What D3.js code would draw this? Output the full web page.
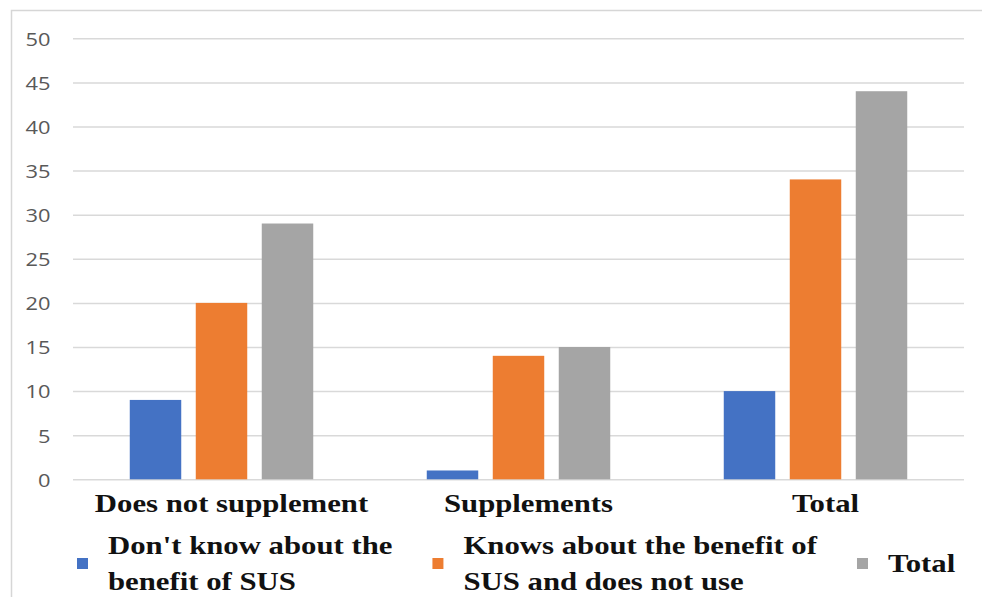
<!DOCTYPE html>
<html>
<head>
<meta charset="utf-8">
<script src="https://cdn.jsdelivr.net/npm/d3@7"></script>
<style>
  html, body { margin: 0; padding: 0; background: #fff; }
  svg { display: block; }
</style>
</head>
<body>
<svg id="chart" width="982" height="597"></svg>
<script>
// Groups along the x axis
const categories = ["Does not supplement", "Supplements", "Total"];
// Series (one bar per group each)
const seriesNames = [
  "Don't know about the benefit of SUS",
  "Knows about the benefit of SUS and does not use",
  "Total"
];
// Legend text, wrapped as it is shown
const legendLines = [
  ["Don't know about the", "benefit of SUS"],
  ["Knows about the benefit of", "SUS and does not use"],
  ["Total"]
];
const dontKnow   = [9, 1, 10];
const knowsNoUse = [20, 14, 34];
const totals     = [29, 15, 44];
const yTicks     = [0, 5, 10, 15, 20, 25, 30, 35, 40, 45, 50];
const colors     = ["#4472C4", "#ED7D31", "#A5A5A5"];

const seriesValues = [dontKnow, knowsNoUse, totals];

const svg = d3.select("#chart");
const SX = 1.23;     // horizontal stretch of the serif lettering
const SX_TICK = 1.15; // horizontal stretch of the tick numbers

// Chart frame
svg.append("rect")
  .attr("x", 11.5).attr("y", 10.5)
  .attr("width", 1100).attr("height", 1000)
  .attr("fill", "none")
  .attr("stroke", "#d6d6d6")
  .attr("stroke-width", 1.5);

const plotLeft = 73, plotRight = 964;
const y = d3.scaleLinear().domain([0, 50]).range([479.3, 38.3]);
const x0 = d3.scaleBand().domain(categories).range([plotLeft, plotRight]);
const x1 = d3.scaleBand().domain(d3.range(seriesNames.length))
  .range([0, x0.bandwidth()])
  .paddingInner(0.22)
  .paddingOuter(0.86);

// Gridlines + y labels via axis
const yAxis = d3.axisLeft(y)
  .tickValues(yTicks)
  .tickSize(-(plotRight - plotLeft))
  .tickPadding(0)
  .tickFormat(d3.format("d"));

const gAxis = svg.append("g")
  .attr("transform", `translate(${plotLeft},0)`)
  .call(yAxis);
gAxis.select(".domain").remove();
gAxis.selectAll(".tick line")
  .attr("stroke", "#d9d9d9")
  .attr("stroke-width", 1.5);
gAxis.selectAll(".tick text")
  .attr("x", null)
  .attr("transform", `translate(-22.5,0) scale(${SX_TICK},1)`)
  .attr("dy", "0.36em")
  .attr("text-anchor", "end")
  .attr("fill", "#595959")
  .style("font-family", "'Open Sans', sans-serif")
  .style("font-size", "19px");

// Bars
const groups = svg.append("g").selectAll("g")
  .data(categories)
  .join("g")
  .attr("transform", d => `translate(${x0(d)},0)`);

groups.selectAll("rect")
  .data((c, ci) => seriesValues.map((vals, si) => ({ si, v: vals[ci] })))
  .join("rect")
  .attr("x", d => x1(d.si))
  .attr("width", x1.bandwidth())
  .attr("y", d => y(d.v))
  .attr("height", d => y(0) - y(d.v))
  .attr("fill", d => colors[d.si]);

// Category labels
const serif = "'Liberation Serif', 'Times New Roman', serif";
svg.append("g").selectAll("text")
  .data(categories)
  .join("text")
  .attr("transform", d => `translate(${x0(d) + x0.bandwidth() / 2 + 10},512) scale(${SX},1)`)
  .attr("text-anchor", "middle")
  .attr("fill", "#111")
  .style("font-family", serif)
  .style("font-weight", "bold")
  .style("font-size", "25px")
  .text(d => d);

// Legend, laid out item after item
const legend = svg.append("g");
const legendCenterY = 563.5;
const lineGap = 36;
const swatch = 11;
let cursor = 77;
legendLines.forEach((lines, i) => {
  const item = legend.append("g");
  item.append("rect")
    .attr("x", cursor)
    .attr("y", legendCenterY - swatch / 2)
    .attr("width", swatch)
    .attr("height", swatch)
    .attr("fill", colors[i]);
  const textX = cursor + 31;
  const n = lines.length;
  let maxW = 0;
  lines.forEach((line, li) => {
    const t = item.append("text")
      .attr("transform", `translate(${textX},${legendCenterY + 8.5 + (li - (n - 1) / 2) * lineGap}) scale(${SX},1)`)
      .attr("fill", "#111")
      .style("font-family", serif)
      .style("font-weight", "bold")
      .style("font-size", "25px")
      .text(line);
    maxW = Math.max(maxW, t.node().getComputedTextLength() * SX);
  });
  cursor = textX + maxW + 40;
});
</script>
</body>
</html>
